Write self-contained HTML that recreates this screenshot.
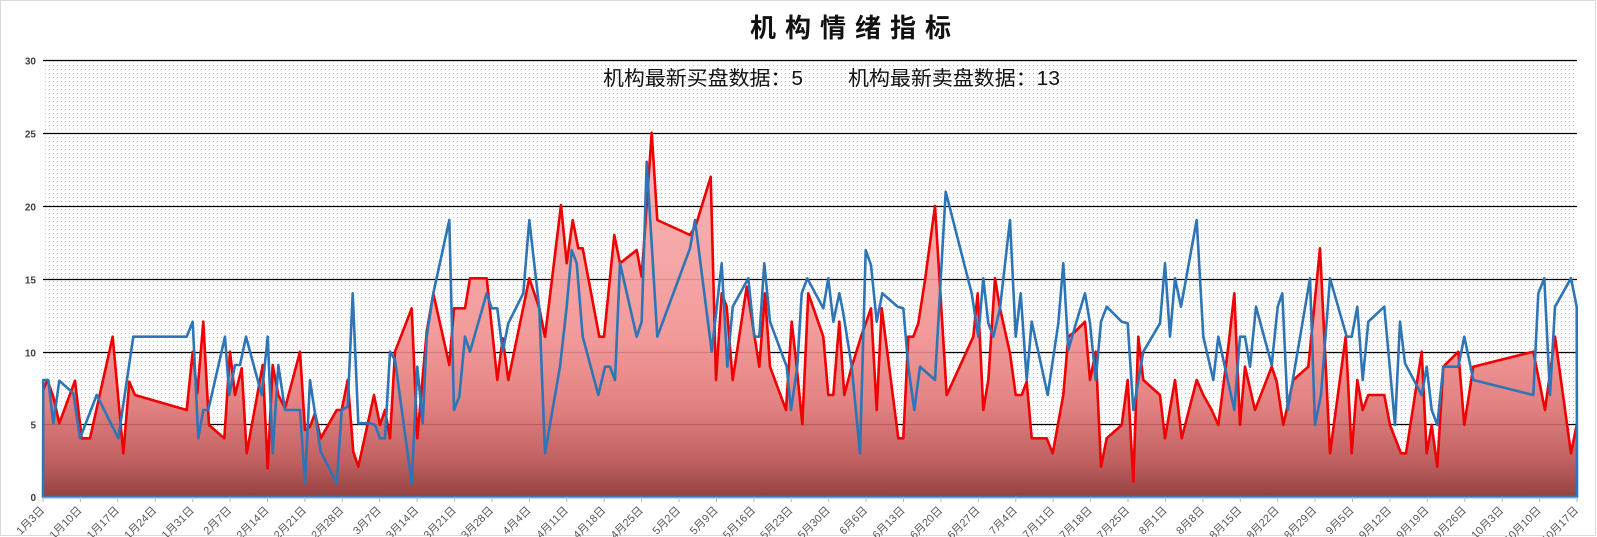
<!DOCTYPE html>
<html><head><meta charset="utf-8"><style>
html,body{margin:0;padding:0;background:#fff;}
svg{display:block;}
</style></head><body>
<svg width="1597" height="537" viewBox="0 0 1597 537" xmlns="http://www.w3.org/2000/svg">
<defs>
<pattern id="dots" x="0" y="0" width="4" height="4" patternUnits="userSpaceOnUse">
<rect x="1" y="1" width="1" height="1" fill="#c2c2c2"/>
</pattern>
<linearGradient id="rg" gradientUnits="userSpaceOnUse" x1="0" y1="130" x2="0" y2="497">
<stop offset="0" stop-color="#f8b2b2"/>
<stop offset="0.55" stop-color="#f29191"/>
<stop offset="0.75" stop-color="#e07474"/>
<stop offset="0.9" stop-color="#bb5050"/>
<stop offset="1" stop-color="#8a2c2c"/>
</linearGradient>
</defs>
<rect x="0.5" y="0.5" width="1595" height="535" fill="#fff" stroke="#d9d9d9"/>
<rect x="43" y="60" width="1534" height="437" fill="url(#dots)"/>
<path stroke="#000" stroke-width="1.2" fill="none" d="M43 60.5H1577M43 133.5H1577M43 206.5H1577M43 279.5H1577M43 352.5H1577M43 424.5H1577"/>
<g font-family="Liberation Sans, sans-serif" font-size="10" font-weight="bold" fill="#404040" text-anchor="end">
<text x="36" y="64.5">30</text>
<text x="36" y="137.5">25</text>
<text x="36" y="210.5">20</text>
<text x="36" y="283.5">15</text>
<text x="36" y="356.5">10</text>
<text x="36" y="428.5">5</text>
<text x="36" y="501">0</text>
</g>
<polygon fill="url(#rg)" fill-opacity="0.9" points="43.3,390 47.3,380 53.3,396.7 59.3,423.3 75,380.7 81.7,438.3 90,438.3 112.7,336.7 123.3,453.3 129.3,381.7 135,395 186.7,410 192.7,351.7 197.3,393.3 203.3,321.7 209,425 224.3,438.3 230,351.7 235,395 241.7,368.3 246.7,453.3 262.7,365 267.7,468.3 272.7,365 278.3,395 285,408.3 300,351.7 305,430 310,426.7 315,413.3 320.7,438.3 336.7,410 341.7,410 347.7,380 353.3,451.7 358.3,466.7 374,395 380,425 385,410 390,438.3 395,351.7 411.7,308.3 417.3,438.3 426.7,331.7 433.3,293.3 449.3,365 454,308.3 465,308.3 470,278.3 486.7,278.3 497.3,380 502.7,338.3 508.3,380 529.3,278.3 539.3,308.3 545,336.7 561,205 566.7,263.3 572.7,220 578.3,248.3 582.7,248.3 599.3,336.7 604,336.7 614.3,235 620,263.3 636.7,250 641.7,276.7 651.7,132.7 657.3,220 690,235 696,225 710.7,176.7 716,380 721.7,293.3 726.7,306.7 732.7,380 746.7,286.7 759.3,366.7 765,293.3 770,366.7 786,410 791.7,321.7 796.7,366.7 802.3,424.3 808.3,293.3 823.3,336.7 828.3,395 833.3,395 839.3,321.7 844.3,395 851.7,366.7 861,336.7 871,308.3 876.7,410 881.7,308.3 898.3,438.3 903.3,438.3 908.3,336.7 913.3,336.7 918.3,323.3 925,280 935,206 946.7,395 973.3,336.7 977.7,293.3 983.3,410 988.3,380 995,278.3 1000,308.3 1010,353.3 1015.7,395 1021.7,395 1026.7,381.7 1031.7,438.3 1046.7,438.3 1052.7,453.3 1063.3,395 1068.3,336.7 1075,331.7 1085,321.7 1090,380 1095.7,351.7 1101,466.7 1106.7,438.3 1121.7,425 1127.7,380 1133.3,481.7 1138.3,336.7 1143.3,380 1160,395 1165,438.3 1175,380 1181.7,438.3 1196.7,380 1203.3,395 1211.7,410 1218.3,425 1228.3,346.7 1234.3,293.3 1240,425 1245,366.7 1255,410 1271.7,366.7 1276.7,381.7 1283.3,425 1293.3,380 1308.3,366.7 1320,248.3 1330,453.3 1345.7,336.7 1351.7,453.3 1357.3,380 1362.7,410 1368.3,395 1384.3,395 1390,425 1401,453.3 1406,453.3 1421.7,351.7 1426.7,453.3 1431.7,425 1437.3,466.7 1443.3,366.7 1458.3,351.7 1464.3,425 1473.3,366.7 1533.3,351.7 1545,410 1555,336.7 1571,453.3 1576.7,425 1577,497 43,497"/>
<polyline fill="none" stroke="#f00000" stroke-width="2.6" stroke-linejoin="round" points="43.3,390 47.3,380 53.3,396.7 59.3,423.3 75,380.7 81.7,438.3 90,438.3 112.7,336.7 123.3,453.3 129.3,381.7 135,395 186.7,410 192.7,351.7 197.3,393.3 203.3,321.7 209,425 224.3,438.3 230,351.7 235,395 241.7,368.3 246.7,453.3 262.7,365 267.7,468.3 272.7,365 278.3,395 285,408.3 300,351.7 305,430 310,426.7 315,413.3 320.7,438.3 336.7,410 341.7,410 347.7,380 353.3,451.7 358.3,466.7 374,395 380,425 385,410 390,438.3 395,351.7 411.7,308.3 417.3,438.3 426.7,331.7 433.3,293.3 449.3,365 454,308.3 465,308.3 470,278.3 486.7,278.3 497.3,380 502.7,338.3 508.3,380 529.3,278.3 539.3,308.3 545,336.7 561,205 566.7,263.3 572.7,220 578.3,248.3 582.7,248.3 599.3,336.7 604,336.7 614.3,235 620,263.3 636.7,250 641.7,276.7 651.7,132.7 657.3,220 690,235 696,225 710.7,176.7 716,380 721.7,293.3 726.7,306.7 732.7,380 746.7,286.7 759.3,366.7 765,293.3 770,366.7 786,410 791.7,321.7 796.7,366.7 802.3,424.3 808.3,293.3 823.3,336.7 828.3,395 833.3,395 839.3,321.7 844.3,395 851.7,366.7 861,336.7 871,308.3 876.7,410 881.7,308.3 898.3,438.3 903.3,438.3 908.3,336.7 913.3,336.7 918.3,323.3 925,280 935,206 946.7,395 973.3,336.7 977.7,293.3 983.3,410 988.3,380 995,278.3 1000,308.3 1010,353.3 1015.7,395 1021.7,395 1026.7,381.7 1031.7,438.3 1046.7,438.3 1052.7,453.3 1063.3,395 1068.3,336.7 1075,331.7 1085,321.7 1090,380 1095.7,351.7 1101,466.7 1106.7,438.3 1121.7,425 1127.7,380 1133.3,481.7 1138.3,336.7 1143.3,380 1160,395 1165,438.3 1175,380 1181.7,438.3 1196.7,380 1203.3,395 1211.7,410 1218.3,425 1228.3,346.7 1234.3,293.3 1240,425 1245,366.7 1255,410 1271.7,366.7 1276.7,381.7 1283.3,425 1293.3,380 1308.3,366.7 1320,248.3 1330,453.3 1345.7,336.7 1351.7,453.3 1357.3,380 1362.7,410 1368.3,395 1384.3,395 1390,425 1401,453.3 1406,453.3 1421.7,351.7 1426.7,453.3 1431.7,425 1437.3,466.7 1443.3,366.7 1458.3,351.7 1464.3,425 1473.3,366.7 1533.3,351.7 1545,410 1555,336.7 1571,453.3 1576.7,425"/>
<polygon fill="none" stroke="#2e75b6" stroke-width="2.6" stroke-linejoin="round" points="43.3,380 48.3,380 53.3,423.3 59.3,380.7 73.3,393.3 80,438.3 96.7,395 118.3,438.3 133.3,336.7 186.7,336.7 192.7,321.7 198.3,438.3 203.3,410 208.3,410 225,336.7 229.3,395 235,365 240,365 246,336.7 261.7,395 267.7,336.7 272.7,453.3 278.3,365 285,410 300,410 305,483.3 310,380 315,413.3 320.7,451.7 336.7,483.3 341.7,410 347.7,406.7 352.7,293.3 358.3,423.3 370,423.3 375,425 380,438.3 385,438.3 390,351.7 395,360 411.7,483.3 417.3,366.7 422.7,423.3 426.7,336.7 433.3,293.3 449.3,220 454,410 459.3,396.7 465,336.7 470,351.7 486.7,293.3 491.7,308.3 497.3,308.3 502.7,351.7 508.3,323.3 523.3,293.3 529.3,220 539.3,308.3 545,453.3 560,366.7 566.7,306.7 571.7,250 576.7,263.3 582.7,336.7 598.3,395 605,366.7 610,366.7 615,380 620,263.3 636.7,336.7 641.7,321.7 646.7,161.7 657.3,336.7 690,248.3 695,220 711.7,351.7 721.7,263.3 727.3,366.7 732.7,306.7 748.3,278.3 754.3,336.7 759.3,336.7 764.3,263.3 770,321.7 786.7,366.7 791,410 797.3,366.7 801.7,293.3 807.3,278.3 823.3,308.3 828.3,278.3 833.3,321.7 839.3,293.3 843.3,313.3 851.7,366.7 860,453.3 865.7,250 871,265 876.7,321.7 882.3,293.3 897.7,306.7 903.3,308.3 908.3,366.7 914.3,410 920,366.7 935,380 945.7,191.7 971.7,293.3 978.3,336.7 983.3,278.3 988.3,323.3 993.3,336.7 1000,308.3 1010,220 1015.7,336.7 1020.7,293.3 1026.7,380 1031.7,321.7 1047.7,395 1058.3,323.3 1063.3,263.3 1068.3,350 1075,326.7 1085,293.3 1090,323.3 1095.7,380 1101,321.7 1106.7,306.7 1121.7,321.7 1127.7,323.3 1133.3,410 1143.3,351.7 1160,323.3 1165,263.3 1170,336.7 1175,278.3 1181,306.7 1196.7,220 1203.3,336.7 1213.3,380 1218.3,336.7 1234.3,410 1240,336.7 1245,336.7 1250,366.7 1256,306.7 1271.7,365 1277.7,306.7 1282.3,293.3 1287.7,410 1310,278.3 1315,425 1321,395 1330,278.3 1346.7,336.7 1351.7,336.7 1357.3,306.7 1362.7,380 1368.3,321.7 1384.3,306.7 1395,425 1400,321.7 1405,363.3 1421.7,395 1426.7,366.7 1431.7,410 1437.3,425 1443.3,366.7 1458.3,366.7 1464.3,336.7 1473.3,380 1533.3,395 1538.3,293.3 1544.3,278.3 1550,395 1555,306.7 1571,278.3 1576.7,306.7 1577,497 43,497"/>
<line x1="43" y1="497.5" x2="1577" y2="497.5" stroke="#8096c4" stroke-width="1.2"/>
<path stroke="#b0b8cc" stroke-width="1" fill="none" d="M43 497v5M80.4 497v5M117.8 497v5M155.2 497v5M192.7 497v5M230.1 497v5M267.5 497v5M304.9 497v5M342.3 497v5M379.7 497v5M417.1 497v5M454.6 497v5M492 497v5M529.4 497v5M566.8 497v5M604.2 497v5M641.6 497v5M679.1 497v5M716.5 497v5M753.9 497v5M791.3 497v5M828.7 497v5M866.1 497v5M903.5 497v5M941 497v5M978.4 497v5M1015.8 497v5M1053.2 497v5M1090.6 497v5M1128 497v5M1165.5 497v5M1202.9 497v5M1240.3 497v5M1277.7 497v5M1315.1 497v5M1352.5 497v5M1389.9 497v5M1427.4 497v5M1464.8 497v5M1502.2 497v5M1539.6 497v5M1577 497v5"/>
<g font-family="Liberation Sans, Noto Sans CJK SC, sans-serif" font-size="11" fill="#595959" text-anchor="end">
<text transform="translate(45,511) rotate(-45)">1月3日</text>
<text transform="translate(82.4,511) rotate(-45)">1月10日</text>
<text transform="translate(119.8,511) rotate(-45)">1月17日</text>
<text transform="translate(157.2,511) rotate(-45)">1月24日</text>
<text transform="translate(194.7,511) rotate(-45)">1月31日</text>
<text transform="translate(232.1,511) rotate(-45)">2月7日</text>
<text transform="translate(269.5,511) rotate(-45)">2月14日</text>
<text transform="translate(306.9,511) rotate(-45)">2月21日</text>
<text transform="translate(344.3,511) rotate(-45)">2月28日</text>
<text transform="translate(381.7,511) rotate(-45)">3月7日</text>
<text transform="translate(419.1,511) rotate(-45)">3月14日</text>
<text transform="translate(456.6,511) rotate(-45)">3月21日</text>
<text transform="translate(494,511) rotate(-45)">3月28日</text>
<text transform="translate(531.4,511) rotate(-45)">4月4日</text>
<text transform="translate(568.8,511) rotate(-45)">4月11日</text>
<text transform="translate(606.2,511) rotate(-45)">4月18日</text>
<text transform="translate(643.6,511) rotate(-45)">4月25日</text>
<text transform="translate(681.1,511) rotate(-45)">5月2日</text>
<text transform="translate(718.5,511) rotate(-45)">5月9日</text>
<text transform="translate(755.9,511) rotate(-45)">5月16日</text>
<text transform="translate(793.3,511) rotate(-45)">5月23日</text>
<text transform="translate(830.7,511) rotate(-45)">5月30日</text>
<text transform="translate(868.1,511) rotate(-45)">6月6日</text>
<text transform="translate(905.5,511) rotate(-45)">6月13日</text>
<text transform="translate(943,511) rotate(-45)">6月20日</text>
<text transform="translate(980.4,511) rotate(-45)">6月27日</text>
<text transform="translate(1017.8,511) rotate(-45)">7月4日</text>
<text transform="translate(1055.2,511) rotate(-45)">7月11日</text>
<text transform="translate(1092.6,511) rotate(-45)">7月18日</text>
<text transform="translate(1130,511) rotate(-45)">7月25日</text>
<text transform="translate(1167.5,511) rotate(-45)">8月1日</text>
<text transform="translate(1204.9,511) rotate(-45)">8月8日</text>
<text transform="translate(1242.3,511) rotate(-45)">8月15日</text>
<text transform="translate(1279.7,511) rotate(-45)">8月22日</text>
<text transform="translate(1317.1,511) rotate(-45)">8月29日</text>
<text transform="translate(1354.5,511) rotate(-45)">9月5日</text>
<text transform="translate(1391.9,511) rotate(-45)">9月12日</text>
<text transform="translate(1429.4,511) rotate(-45)">9月19日</text>
<text transform="translate(1466.8,511) rotate(-45)">9月26日</text>
<text transform="translate(1504.2,511) rotate(-45)">10月3日</text>
<text transform="translate(1541.6,511) rotate(-45)">10月10日</text>
<text transform="translate(1579,511) rotate(-45)">10月17日</text>
</g>
<text x="855" y="37" text-anchor="middle" font-family="Liberation Sans, Noto Sans CJK SC, sans-serif" font-size="26" font-weight="bold" letter-spacing="9" fill="#111">机构情绪指标</text>
<g font-family="Liberation Sans, Noto Sans CJK SC, sans-serif" font-size="20" fill="#111">
<text x="603" y="85" textLength="200" lengthAdjust="spacingAndGlyphs">机构最新买盘数据：5</text>
<text x="848" y="85" textLength="212" lengthAdjust="spacingAndGlyphs">机构最新卖盘数据：13</text>
</g>
</svg>
</body></html>
